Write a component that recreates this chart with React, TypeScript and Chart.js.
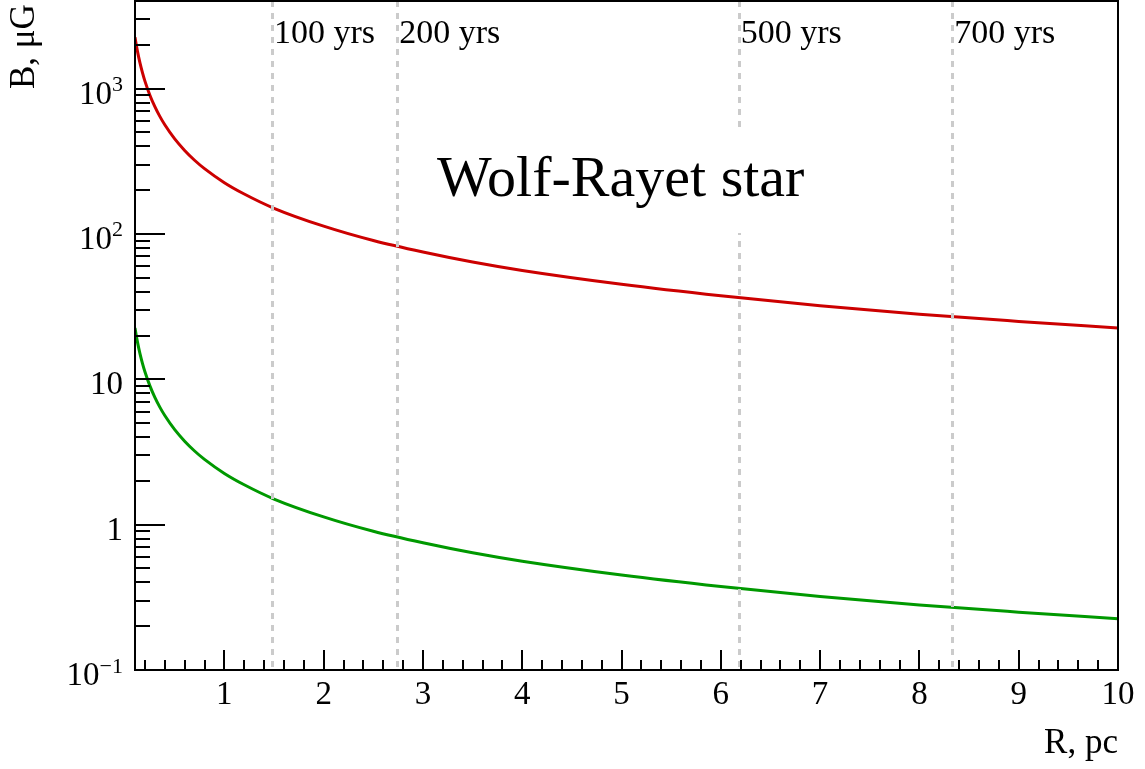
import { useEffect, useRef } from "react";
import { Chart, registerables } from "chart.js";

Chart.register(...registerables);

// Distance from the star, pc
const radiusPc = [
  0.1, 0.11, 0.125, 0.15, 0.175, 0.2, 0.25, 0.3, 0.35, 0.4, 0.5, 0.6, 0.7, 0.8,
  1, 1.2, 1.5, 2, 2.5, 3, 3.5, 4, 5, 6, 7, 8, 9, 10,
];

// Magnetic field, upper (red) curve, μG
const fieldUpper = [
  2250, 2045, 1800, 1500, 1286, 1125, 900, 750, 643, 563, 450, 375, 321, 281,
  225, 188, 150, 113, 90, 75, 64, 56, 45, 37.5, 32, 28, 25, 22.5,
];

// Magnetic field, lower (green) curve, μG
const fieldLower = [
  22.5, 20.45, 18.0, 15.0, 12.86, 11.25, 9.0, 7.5, 6.43, 5.63, 4.5, 3.75, 3.21,
  2.81, 2.25, 1.88, 1.5, 1.13, 0.9, 0.75, 0.64, 0.56, 0.45, 0.375, 0.32, 0.28,
  0.25, 0.225,
];

// Shell age markers
const ageLabels = ["100 yrs", "200 yrs", "500 yrs", "700 yrs"];
const ageRadiusPc = [1.48, 2.74, 6.18, 8.33];

// Axis ticks
const xMajorTicks = [1, 2, 3, 4, 5, 6, 7, 8, 9, 10];
const xTickLabels = ["1", "2", "3", "4", "5", "6", "7", "8", "9", "10"];
const yMajorTicks = [0.1, 1, 10, 100, 1000];
const yTickBase = ["10", "1", "10", "10", "10"];
const yTickExponent = ["\u22121", "", "", "2", "3"];

const X_MIN = 0.1;
const X_MAX = 10;
const Y_MIN = 0.1;
const Y_MAX = 4000;

const SERIF = '"Liberation Serif", "Times New Roman", "DejaVu Serif", serif';

const rootStylePlugin = {
  id: "rootStyle",
  afterDatasetsDraw(chart: any) {
    const { ctx, chartArea: a, scales } = chart;
    const xs = scales.x;
    ctx.save();

    // dashed age markers
    ctx.strokeStyle = "#cbcbcb";
    ctx.lineWidth = 3;
    ctx.setLineDash([6, 6]);
    ageRadiusPc.forEach((r) => {
      const px = Math.round(xs.getPixelForValue(r)) + 0.5;
      ctx.beginPath();
      ctx.moveTo(px, a.top);
      ctx.lineTo(px, a.bottom);
      ctx.stroke();
    });
    ctx.setLineDash([]);

    // age labels
    ctx.fillStyle = "#000";
    ctx.font = `34px ${SERIF}`;
    ctx.textAlign = "left";
    ctx.textBaseline = "alphabetic";
    ageRadiusPc.forEach((r, i) => {
      const px = xs.getPixelForValue(r);
      ctx.fillText(ageLabels[i], px + 2, a.top + 42);
    });

    // title with its white box
    const title = "Wolf-Rayet star";
    ctx.font = `58px ${SERIF}`;
    const tx = a.left + 302;
    const ty = a.top + 195;
    const tw = ctx.measureText(title).width;
    ctx.fillStyle = "#fff";
    ctx.fillRect(tx - 10, ty - 65, tw + 25, 102);
    ctx.fillStyle = "#000";
    ctx.fillText(title, tx, ty);

    ctx.restore();
  },
  afterDraw(chart: any) {
    const { ctx, chartArea: a, scales } = chart;
    const xs = scales.x;
    const ys = scales.y;
    ctx.save();
    ctx.strokeStyle = "#000";
    ctx.lineWidth = 2;

    // frame
    ctx.strokeRect(a.left, a.top, a.right - a.left, a.bottom - a.top);

    // x ticks
    ctx.beginPath();
    for (let i = 1; i < 50; i++) {
      const v = i * 0.2;
      const px = Math.round(xs.getPixelForValue(v));
      const len = i % 5 === 0 ? 20 : 10;
      ctx.moveTo(px, a.bottom);
      ctx.lineTo(px, a.bottom - len);
    }
    // y ticks
    for (let k = -1; k <= 3; k++) {
      for (let m = 1; m <= 9; m++) {
        const v = m * Math.pow(10, k);
        if (v <= Y_MIN * 1.0001 || v > Y_MAX) continue;
        const py = Math.round(ys.getPixelForValue(v));
        const len = m === 1 ? 30 : 15;
        ctx.moveTo(a.left, py);
        ctx.lineTo(a.left + len, py);
      }
    }
    ctx.stroke();

    // x tick labels
    ctx.fillStyle = "#000";
    ctx.font = `33px ${SERIF}`;
    ctx.textAlign = "center";
    ctx.textBaseline = "alphabetic";
    xMajorTicks.forEach((v, i) => {
      ctx.fillText(xTickLabels[i], xs.getPixelForValue(v), a.bottom + 34);
    });

    // y tick labels (with superscripts)
    const rightEdge = a.left - 12;
    yMajorTicks.forEach((v, i) => {
      const py = ys.getPixelForValue(v);
      const exp = yTickExponent[i];
      let right = rightEdge;
      if (exp) {
        ctx.font = `22px ${SERIF}`;
        ctx.textAlign = "right";
        ctx.fillText(exp, right, py + 15 - 12.5);
        right -= ctx.measureText(exp).width;
      }
      ctx.font = `33px ${SERIF}`;
      ctx.textAlign = "right";
      ctx.fillText(yTickBase[i], right, py + 15);
    });

    // axis titles
    ctx.font = `35px ${SERIF}`;
    ctx.textAlign = "right";
    ctx.fillText("R, pc", a.right, a.bottom + 83);

    ctx.save();
    ctx.translate(34, a.top + 88);
    ctx.rotate(-Math.PI / 2);
    ctx.textAlign = "left";
    ctx.fillText("B, \u03bcG", 0, 0);
    ctx.restore();

    ctx.restore();
  },
};

export default function App() {
  const canvasRef = useRef<HTMLCanvasElement>(null);

  useEffect(() => {
    const canvas = canvasRef.current;
    if (!canvas) return;
    const chart = new Chart(canvas, {
      type: "line",
      data: {
        datasets: [
          {
            data: radiusPc.map((r, i) => ({ x: r, y: fieldUpper[i] })),
            borderColor: "#cc0000",
            borderWidth: 3,
            pointRadius: 0,
            cubicInterpolationMode: "monotone",
          },
          {
            data: radiusPc.map((r, i) => ({ x: r, y: fieldLower[i] })),
            borderColor: "#009900",
            borderWidth: 3,
            pointRadius: 0,
            cubicInterpolationMode: "monotone",
          },
        ],
      },
      options: {
        animation: false,
        responsive: false,
        devicePixelRatio: 1,
        layout: { padding: { left: 135, right: 27, top: 1, bottom: 99 } },
        plugins: {
          legend: { display: false },
          tooltip: { enabled: false },
        },
        scales: {
          x: { type: "linear", min: X_MIN, max: X_MAX, display: false },
          y: { type: "logarithmic", min: Y_MIN, max: Y_MAX, display: false },
        },
      },
      plugins: [rootStylePlugin],
    });
    return () => chart.destroy();
  }, []);

  return (
    <div
      style={{
        position: "fixed",
        left: 0,
        top: 0,
        width: 1145,
        height: 769,
        background: "#fff",
      }}
    >
      <canvas
        ref={canvasRef}
        width={1145}
        height={769}
        style={{ display: "block" }}
      />
    </div>
  );
}
